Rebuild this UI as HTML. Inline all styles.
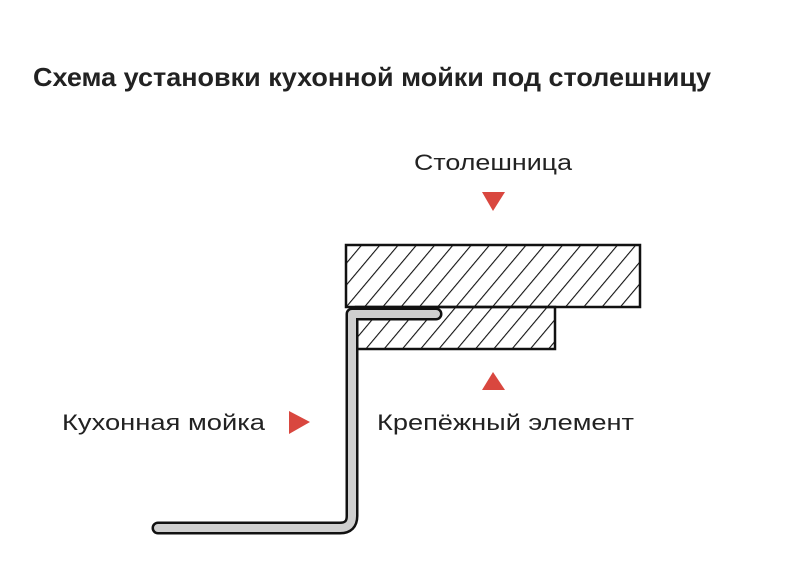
<!DOCTYPE html>
<html><head><meta charset="utf-8"><style>
html,body{margin:0;padding:0;background:#fff;}
svg{display:block;}
text{font-family:"Liberation Sans",sans-serif;fill:#222;}
</style></head><body>
<svg width="797" height="575" viewBox="0 0 797 575" xmlns="http://www.w3.org/2000/svg">
<defs>
<pattern id="h" patternUnits="userSpaceOnUse" width="14" height="14" patternTransform="rotate(40)">
<line x1="0" y1="0" x2="0" y2="14" stroke="#111" stroke-width="2.2"/>
</pattern>
</defs>
<text x="33" y="86" font-size="26" font-weight="bold" textLength="678" lengthAdjust="spacingAndGlyphs">Схема установки кухонной мойки под столешницу</text>
<text x="414" y="170" font-size="22" textLength="158" lengthAdjust="spacingAndGlyphs">Столешница</text>
<polygon points="482,192 505,192 493,211" fill="#d9473f"/>
<rect x="346" y="245" width="294" height="62" fill="url(#h)" stroke="#111" stroke-width="2.5"/>
<rect x="356" y="307" width="199" height="42" fill="url(#h)" stroke="#111" stroke-width="2.5"/>
<path d="M436,314 L352,314 L352,516 Q352,528 340,528 L158,528" fill="none" stroke="#111" stroke-width="13" stroke-linecap="round" stroke-linejoin="round"/>
<path d="M436,314 L352,314 L352,516 Q352,528 340,528 L158,528" fill="none" stroke="#cfcfcf" stroke-width="8" stroke-linecap="round" stroke-linejoin="round"/>
<polygon points="493,372 482,390 505,390" fill="#d9473f"/>
<text x="377" y="430" font-size="22" textLength="257" lengthAdjust="spacingAndGlyphs">Крепёжный элемент</text>
<text x="62" y="430" font-size="22" textLength="203" lengthAdjust="spacingAndGlyphs">Кухонная мойка</text>
<polygon points="289,411 289,434 310,422" fill="#d9473f"/>
</svg>
</body></html>
